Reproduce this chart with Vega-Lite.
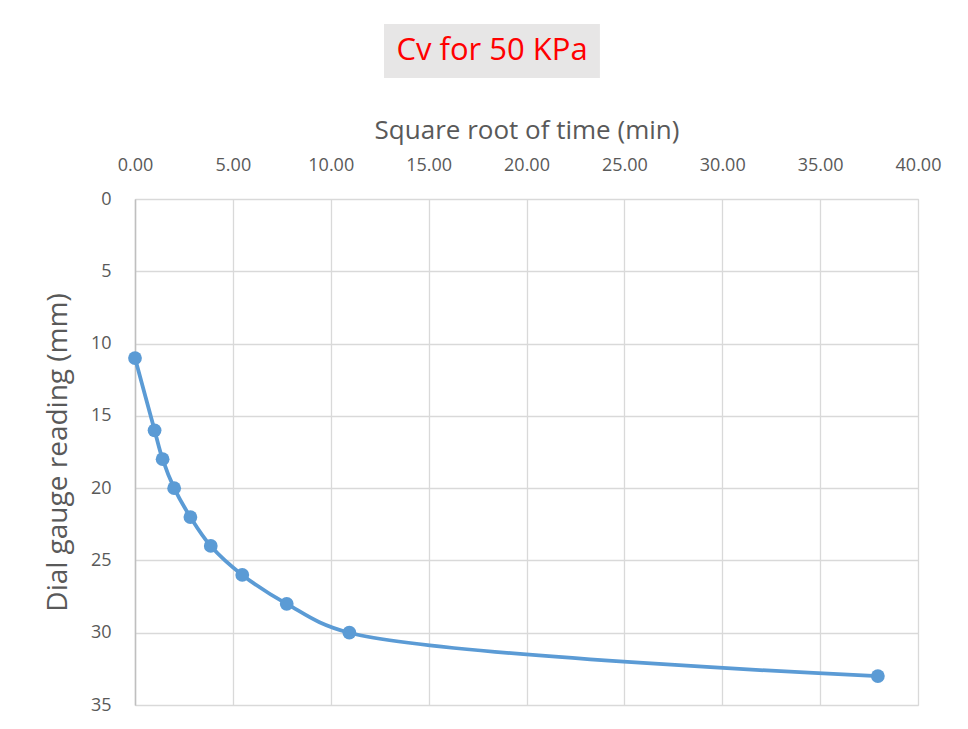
{
  "$schema": "https://vega.github.io/schema/vega-lite/v6.json",
  "background": "white",
  "padding": {"left": 44, "top": 24, "right": 20, "bottom": 20},
  "width": 783,
  "height": 506,
  "config": {
    "font": "Open Sans",
    "view": {"stroke": "#d9d9d9"}
  },
  "datasets": {
    "readings": [
      {"sqrt_time": 0.0, "reading": 11},
      {"sqrt_time": 1.0, "reading": 16},
      {"sqrt_time": 1.41, "reading": 18},
      {"sqrt_time": 2.0, "reading": 20},
      {"sqrt_time": 2.83, "reading": 22},
      {"sqrt_time": 3.87, "reading": 24},
      {"sqrt_time": 5.48, "reading": 26},
      {"sqrt_time": 7.75, "reading": 28},
      {"sqrt_time": 10.95, "reading": 30},
      {"sqrt_time": 37.95, "reading": 33}
    ],
    "heading": [{"label": "Cv for 50 KPa"}]
  },
  "layer": [
    {
      "data": {"name": "readings"},
      "mark": {"type": "line", "interpolate": "catmull-rom", "color": "#5b9bd5", "strokeWidth": 3.8},
      "encoding": {
        "x": {
          "field": "sqrt_time",
          "type": "quantitative",
          "scale": {"domain": [0, 40], "nice": false},
          "axis": {
            "orient": "top",
            "title": "Square root of time (min)",
            "values": [0, 5, 10, 15, 20, 25, 30, 35, 40],
            "format": ".2f",
            "labelFlush": false,
            "labelOverlap": false,
            "labelFontSize": 18,
            "labelColor": "#595959",
            "labelPadding": 25,
            "titleFontSize": 26,
            "titleFontWeight": "normal",
            "titleColor": "#595959",
            "titlePadding": 13,
            "ticks": false,
            "domainColor": "#d9d9d9",
            "gridColor": "#d9d9d9",
            "gridWidth": 1.3
          }
        },
        "y": {
          "field": "reading",
          "type": "quantitative",
          "scale": {"domain": [0, 35], "reverse": true, "nice": false},
          "axis": {
            "title": "Dial gauge reading (mm)",
            "values": [0, 5, 10, 15, 20, 25, 30, 35],
            "labelFlush": false,
            "labelFontSize": 18,
            "labelColor": "#595959",
            "labelPadding": 24,
            "titleFontSize": 28,
            "titleFontWeight": "normal",
            "titleColor": "#595959",
            "titlePadding": 18,
            "ticks": false,
            "domainColor": "#bfbfbf",
            "domainWidth": 1.5,
            "gridColor": "#d9d9d9",
            "gridWidth": 1.3
          }
        }
      }
    },
    {
      "data": {"name": "readings"},
      "mark": {"type": "point", "filled": true, "opacity": 1, "color": "#5b9bd5", "size": 190},
      "encoding": {
        "x": {"field": "sqrt_time", "type": "quantitative"},
        "y": {"field": "reading", "type": "quantitative"}
      }
    },
    {
      "data": {"name": "heading"},
      "mark": {"type": "rect", "color": "#e7e6e6"},
      "encoding": {
        "x": {"datum": 12.72, "type": "quantitative"},
        "x2": {"datum": 23.75},
        "y": {"datum": -12.1, "type": "quantitative"},
        "y2": {"datum": -8.37}
      }
    },
    {
      "data": {"name": "heading"},
      "mark": {"type": "text", "fontSize": 31, "color": "#ff0000", "baseline": "middle", "align": "center"},
      "encoding": {
        "x": {"datum": 18.24, "type": "quantitative"},
        "y": {"datum": -10.24, "type": "quantitative"},
        "text": {"field": "label"}
      }
    }
  ]
}
